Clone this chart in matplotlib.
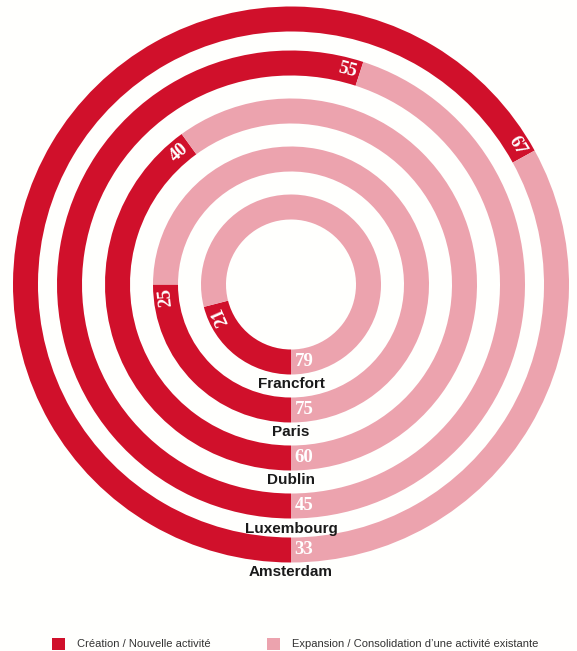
import numpy as np
import matplotlib
matplotlib.use("Agg")
import matplotlib.pyplot as plt
from matplotlib.patches import Rectangle

# data (inner ring -> outer ring)
villes = ["Francfort", "Paris", "Dublin", "Luxembourg", "Amsterdam"]
creation = [21, 25, 40, 55, 67]
expansion = [79, 75, 60, 45, 33]
legende = ["Création / Nouvelle activité",
           "Expansion / Consolidation d’une activité existante"]

ROUGE = "#D0102B"
ROSE = "#ECA3AE"
FOND = "#FFFFFD"

W, H = 577, 651
fig = plt.figure(figsize=(W / 100, H / 100), dpi=100, facecolor=FOND)
ax = fig.add_axes([0, 0, 1, 1])
ax.set_facecolor(FOND)

cx, cy = 291, H - 284.5
rayons = [90, 138, 186, 234, 278]   # outer radius of each ring
largeur = 25

for i, ville in enumerate(villes):
    r = rayons[i]
    ax.pie([creation[i], expansion[i]], radius=r, center=(cx, cy),
           startangle=-90, counterclock=False, colors=[ROUGE, ROSE],
           wedgeprops=dict(width=largeur, linewidth=0))
    rm = r - largeur / 2

    # dark value, rotated along the ring near the end of the red arc
    fin = -90 - 360 * creation[i] / (creation[i] + expansion[i])
    delta = np.degrees(13 / rm)
    th = fin + delta
    x = cx + rm * np.cos(np.radians(th))
    y = cy + rm * np.sin(np.radians(th))
    ax.text(x, y, str(creation[i]), color="white", fontsize=13.5,
            family="Liberation Serif", weight="bold",
            rotation=th - 90, rotation_mode="anchor", ha="center", va="center")

    # light value, horizontal at the bottom
    ax.text(cx + 13, cy - rm, str(expansion[i]), color="white", fontsize=13.5,
            family="Liberation Serif", weight="bold", ha="center", va="center")

    # city name under the ring
    ax.text(cx, cy - r - 10, ville, color="#1a1a1a", fontsize=11,
            family=["Liberation Sans", "DejaVu Sans"], weight="bold",
            ha="center", va="center")

# legend
for k, (coul, lab) in enumerate(zip([ROUGE, ROSE], legende)):
    x0 = [52, 267][k]
    ax.add_patch(Rectangle((x0, H - 650), 13, 12, color=coul, lw=0))
    ax.text(x0 + 25, H - 644, lab, fontsize=8, color="#333333",
            family="Liberation Sans", ha="left", va="center")

ax.set_xlim(0, W)
ax.set_ylim(0, H)
ax.set_aspect("equal")
ax.axis("off")

fig.savefig("out.png", dpi=100, facecolor=FOND)
